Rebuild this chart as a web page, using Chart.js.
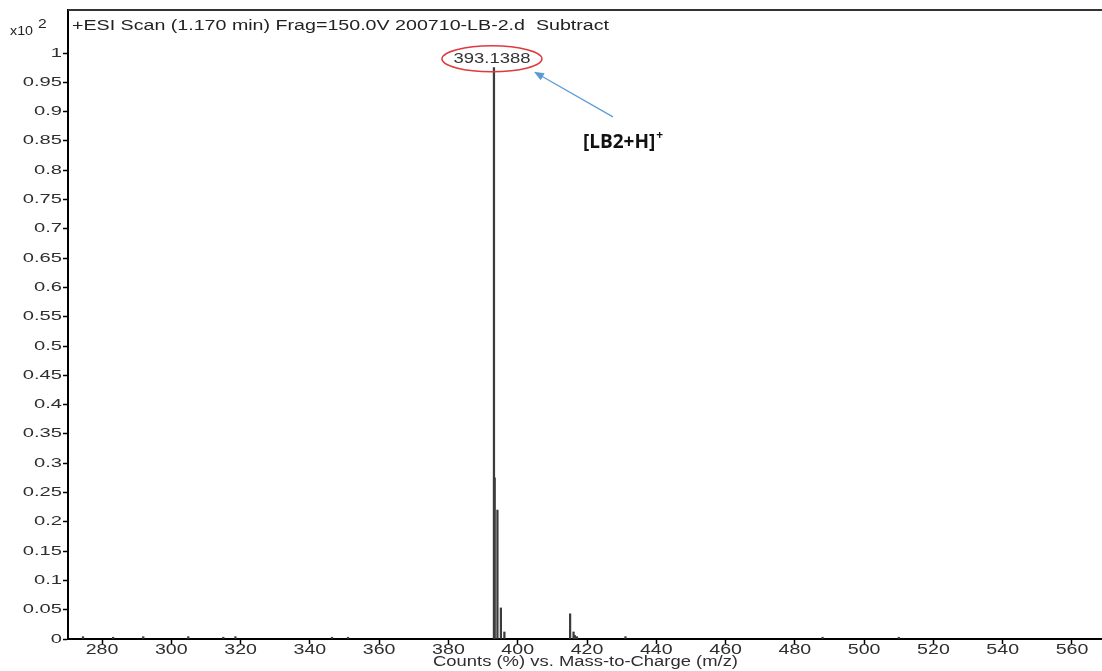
<!DOCTYPE html>
<html>
<head>
  <meta charset="UTF-8">
  <title>ESI Scan 200710-LB-2</title>
  <script src="https://cdn.jsdelivr.net/npm/chart.js"></script>
  <style>
    html, body {
      margin: 0;
      padding: 0;
      background: #fff;
    }
    #spectrum {
      display: block;
    }
  </style>
</head>
<body>
<canvas id="spectrum" width="1102" height="671"></canvas>

<script>
  // Peak list (m/z) and relative counts (x10^2)
  const mzValues = [274.5, 283.2, 291.9, 304.9, 315.0, 318.5, 346.4, 351.0,
                    393.14, 393.35, 394.14, 395.14, 396.15,
                    415.12, 416.12, 416.5, 417.1, 431.1, 488.0, 510.0];
  const counts = [0.004, 0.003, 0.004, 0.004, 0.003, 0.004, 0.003, 0.003,
                  0.975, 0.275, 0.22, 0.053, 0.012,
                  0.043, 0.012, 0.006, 0.004, 0.004, 0.003, 0.003];

  // Axis ticks
  const xTicks = [280, 300, 320, 340, 360, 380, 400, 420, 440, 460, 480, 500, 520, 540, 560];
  const yTicks = [0, 0.05, 0.1, 0.15, 0.2, 0.25, 0.3, 0.35, 0.4, 0.45, 0.5,
                  0.55, 0.6, 0.65, 0.7, 0.75, 0.8, 0.85, 0.9, 0.95, 1];

  const titleText = '+ESI Scan (1.170 min) Frag=150.0V 200710-LB-2.d  Subtract';
  const xTitle = 'Counts (%) vs. Mass-to-Charge (m/z)';
  const basePeak = 393.1388;
  const ionLabel = '[LB2+H]';

  // draw text squeezed/stretched horizontally
  function stretchText(ctx, text, x, y, sx, align) {
    ctx.save();
    ctx.translate(x, y);
    ctx.scale(sx, 1);
    ctx.textAlign = align;
    ctx.fillText(text, 0, 0);
    ctx.restore();
  }

  function fitText(ctx, text, x, y, width, align) {
    const w = ctx.measureText(text).width;
    stretchText(ctx, text, x, y, width / w, align);
  }

  const labelsPlugin = {
    id: 'spectrumLabels',
    afterDraw(chart) {
      const ctx = chart.ctx;
      const xs = chart.scales.x;
      const ys = chart.scales.y;
      const area = chart.chartArea;

      ctx.save();
      // top frame line
      ctx.strokeStyle = '#333';
      ctx.lineWidth = 2;
      ctx.beginPath();
      ctx.moveTo(area.left, area.top);
      ctx.lineTo(area.right, area.top);
      ctx.stroke();

      // tick labels
      ctx.fillStyle = '#2e2e2e';
      ctx.textBaseline = 'middle';
      ctx.font = '13px "Liberation Sans", Arial, sans-serif';
      ys.ticks.forEach(t => {
        stretchText(ctx, String(+t.value.toFixed(2)), area.left - 6, ys.getPixelForValue(t.value), 1.55, 'right');
      });
      ctx.font = '14px "Liberation Sans", Arial, sans-serif';
      xs.ticks.forEach(t => {
        stretchText(ctx, String(t.value), xs.getPixelForValue(t.value), area.bottom + 11, 1.4, 'center');
      });

      // axis title
      ctx.textBaseline = 'alphabetic';
      ctx.font = '14px "Liberation Sans", Arial, sans-serif';
      fitText(ctx, xTitle, 433, area.bottom + 27, 305, 'left');

      // scan title and exponent
      ctx.fillStyle = '#222';
      ctx.font = '14px "Liberation Sans", Arial, sans-serif';
      fitText(ctx, titleText, area.left + 4, 30, 537, 'left');
      ctx.font = '13px "Liberation Sans", Arial, sans-serif';
      fitText(ctx, 'x10', 10, 35, 23, 'left');
      ctx.font = '12px "Liberation Sans", Arial, sans-serif';
      stretchText(ctx, '2', 38, 28, 1.3, 'left');

      // base peak label with red ellipse
      const cx = xs.getPixelForValue(basePeak) - 2;
      const cy = ys.getPixelForValue(0.99);
      ctx.fillStyle = '#333';
      ctx.textBaseline = 'middle';
      ctx.font = '14px "Liberation Sans", Arial, sans-serif';
      fitText(ctx, basePeak.toFixed(4), cx, cy, 77, 'center');
      ctx.strokeStyle = '#e0393e';
      ctx.lineWidth = 1.5;
      ctx.beginPath();
      ctx.ellipse(cx, cy, 50, 13, 0, 0, Math.PI * 2);
      ctx.stroke();

      // blue arrow pointing at the label
      const tipX = cx + 42, tipY = cy + 13;
      const tailX = cx + 121, tailY = cy + 58;
      const ang = Math.atan2(tipY - tailY, tipX - tailX);
      ctx.strokeStyle = '#5b9bd5';
      ctx.fillStyle = '#5b9bd5';
      ctx.lineWidth = 1.2;
      ctx.beginPath();
      ctx.moveTo(tailX, tailY);
      ctx.lineTo(tipX - 6 * Math.cos(ang), tipY - 6 * Math.sin(ang));
      ctx.stroke();
      ctx.beginPath();
      ctx.moveTo(tipX, tipY);
      ctx.lineTo(tipX - 10 * Math.cos(ang) + 4 * Math.sin(ang), tipY - 10 * Math.sin(ang) - 4 * Math.cos(ang));
      ctx.lineTo(tipX - 10 * Math.cos(ang) - 4 * Math.sin(ang), tipY - 10 * Math.sin(ang) + 4 * Math.cos(ang));
      ctx.closePath();
      ctx.fill();

      // ion label
      ctx.fillStyle = '#111';
      ctx.textBaseline = 'alphabetic';
      ctx.font = 'bold 19px "Open Sans", "Noto Sans", sans-serif';
      ctx.textAlign = 'left';
      const ionX = cx + 91, ionY = cy + 89;
      ctx.fillText(ionLabel, ionX, ionY);
      const ionW = ctx.measureText(ionLabel).width;
      ctx.font = 'bold 12px "Open Sans", "Noto Sans", sans-serif';
      ctx.fillText('+', ionX + ionW + 1, ionY - 9);
      ctx.restore();
    }
  };

  const axisColor = '#000';

  new Chart(document.getElementById('spectrum'), {
    type: 'bar',
    data: {
      datasets: [{
        data: mzValues.map((m, i) => ({ x: m, y: counts[i] })),
        backgroundColor: '#3c3c3c',
        borderWidth: 0,
        barThickness: 1.6
      }]
    },
    options: {
      responsive: false,
      animation: false,
      devicePixelRatio: 1,
      layout: { padding: { top: 10, left: 0, right: 0, bottom: 0 } },
      plugins: {
        legend: { display: false },
        tooltip: { enabled: false }
      },
      scales: {
        x: {
          type: 'linear',
          min: 270.18,
          max: 568.66,
          offset: false,
          afterBuildTicks: s => { s.ticks = xTicks.map(v => ({ value: v })); },
          afterFit: s => { s.height = 32; },
          ticks: { display: false },
          grid: {
            offset: false,
            drawOnChartArea: false,
            drawTicks: true,
            tickLength: 5,
            tickColor: axisColor,
            tickWidth: 1.5
          },
          border: { color: axisColor, width: 2 }
        },
        y: {
          min: 0,
          max: 1.0734,
          afterBuildTicks: s => { s.ticks = yTicks.map(v => ({ value: v })); },
          afterFit: s => { s.width = 68; },
          ticks: { display: false },
          grid: {
            drawOnChartArea: false,
            drawTicks: true,
            tickLength: 5,
            tickColor: axisColor,
            tickWidth: 1.5
          },
          border: { color: axisColor, width: 2 }
        }
      }
    },
    plugins: [labelsPlugin]
  });
</script>
</body>
</html>
